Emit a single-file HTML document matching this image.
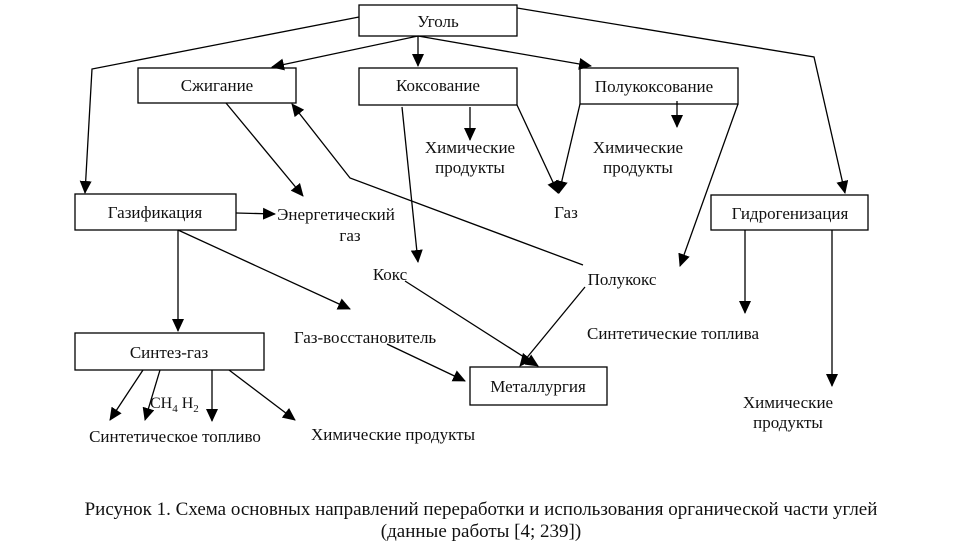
<!DOCTYPE html>
<html><head><meta charset="utf-8"><style>
html,body{margin:0;padding:0;background:#fff;}
svg text{font-family:"Liberation Serif",serif;fill:#111;}
</style></head><body>
<svg width="966" height="548" viewBox="0 0 966 548" xmlns="http://www.w3.org/2000/svg">
<defs><marker id="a" markerWidth="13" markerHeight="12" refX="12" refY="6" orient="auto" markerUnits="userSpaceOnUse"><path d="M0,0 L13,6 L0,12 z" fill="#000"/></marker></defs>
<g fill="none" stroke="#000" stroke-width="1.3">
<rect x="359" y="5" width="158" height="31"/>
<rect x="138" y="68" width="158" height="35"/>
<rect x="359" y="68" width="158" height="37"/>
<rect x="580" y="68" width="158" height="36"/>
<rect x="75" y="194" width="161" height="36"/>
<rect x="711" y="195" width="157" height="35"/>
<rect x="75" y="333" width="189" height="37"/>
<rect x="470" y="367" width="137" height="38"/>
</g>
<g fill="none" stroke="#000" stroke-width="1.3" marker-end="url(#a)">
<polyline points="359,17 92,69 85,193"/>
<line x1="418" y1="36" x2="272" y2="67"/>
<line x1="418" y1="36" x2="418" y2="66"/>
<line x1="418" y1="36" x2="591" y2="66"/>
<polyline points="517,8 814,57 845,193"/>
<line x1="226" y1="103" x2="303" y2="196"/>
<polyline points="583,265 350,178 292,104"/>
<line x1="402" y1="107" x2="418" y2="262"/>
<line x1="470" y1="107" x2="470" y2="140"/>
<line x1="517" y1="105" x2="558" y2="193"/>
<line x1="580" y1="104" x2="559" y2="193"/>
<line x1="677" y1="101" x2="677" y2="127"/>
<line x1="738" y1="104" x2="680" y2="266"/>
<line x1="236" y1="213" x2="275" y2="214"/>
<line x1="178" y1="230" x2="178" y2="331"/>
<line x1="178" y1="230" x2="350" y2="309"/>
<line x1="387" y1="344" x2="465" y2="381"/>
<line x1="405" y1="281" x2="538" y2="366"/>
<line x1="585" y1="287" x2="520" y2="366"/>
<line x1="143" y1="370" x2="110" y2="420"/>
<line x1="160" y1="370" x2="145" y2="420"/>
<line x1="212" y1="370" x2="212" y2="421"/>
<line x1="229" y1="370" x2="295" y2="420"/>
<line x1="745" y1="230" x2="745" y2="313"/>
<line x1="832" y1="230" x2="832" y2="386"/>
</g>
<g font-size="17" text-anchor="middle">
<text x="438" y="27">Уголь</text>
<text x="217" y="91">Сжигание</text>
<text x="438" y="91">Коксование</text>
<text x="654" y="92">Полукоксование</text>
<text x="155" y="218">Газификация</text>
<text x="790" y="219">Гидрогенизация</text>
<text x="169" y="358">Синтез-газ</text>
<text x="538" y="392">Металлургия</text>
<text x="470" y="153">Химические</text>
<text x="470" y="173">продукты</text>
<text x="638" y="153">Химические</text>
<text x="638" y="173">продукты</text>
<text x="566" y="218">Газ</text>
<text x="336" y="220">Энергетический</text>
<text x="350" y="241">газ</text>
<text x="390" y="280">Кокс</text>
<text x="622" y="285">Полукокс</text>
<text x="673" y="339">Синтетические топлива</text>
<text x="365" y="343">Газ-восстановитель</text>
<text x="175" y="442">Синтетическое топливо</text>
<text x="393" y="440">Химические продукты</text>
<text x="788" y="408">Химические</text>
<text x="788" y="428">продукты</text>
</g>
<text x="150" y="408" font-size="16">CH<tspan font-size="11" dy="4">4</tspan><tspan dy="-4"> H</tspan><tspan font-size="11" dy="4">2</tspan></text>
<g font-size="19" text-anchor="middle">
<text x="481" y="515">Рисунок 1. Схема основных направлений переработки и использования органической части углей</text>
<text x="481" y="537">(данные работы [4; 239])</text>
</g>
</svg>
</body></html>
